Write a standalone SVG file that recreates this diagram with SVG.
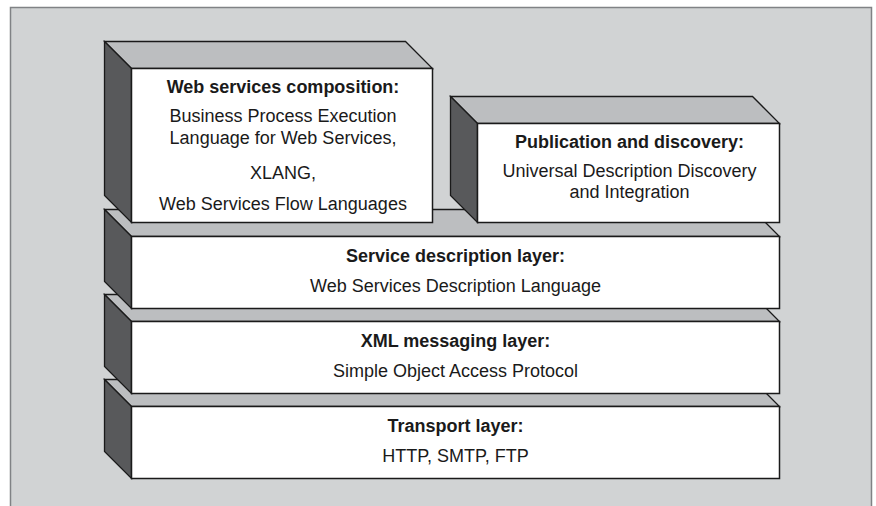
<svg xmlns="http://www.w3.org/2000/svg" width="876" height="506" viewBox="0 0 876 506">
<style>
.top{fill:#bcbec0;stroke:#1a1a1a;stroke-width:1.3;stroke-linejoin:miter}
.side{fill:#58595b;stroke:#1a1a1a;stroke-width:1.3}
.front{fill:#ffffff;stroke:#1a1a1a;stroke-width:1.5}
text{font-family:"Liberation Sans",Arial,sans-serif;font-size:18px;fill:#1a1a1a;text-anchor:middle}
.b{font-weight:bold}
</style>
<rect x="10.5" y="7.5" width="861" height="510" fill="#d1d3d4" stroke="#808285" stroke-width="1.5"/>
<g id="transport">
<polygon class="top" points="104.5,379.5 752.5,379.5 779.5,406.5 131.5,406.5"/>
<polygon class="side" points="104.5,379.5 131.5,406.5 131.5,478.5 104.5,451.5"/>
<rect class="front" x="131.5" y="406.5" width="648" height="72"/>
<text class="b" x="455.5" y="432">Transport layer:</text>
<text x="455.5" y="462">HTTP, SMTP, FTP</text>
</g>
<g id="xml-messaging">
<polygon class="top" points="104.5,294.5 752.5,294.5 779.5,321.5 131.5,321.5"/>
<polygon class="side" points="104.5,294.5 131.5,321.5 131.5,393.5 104.5,366.5"/>
<rect class="front" x="131.5" y="321.5" width="648" height="72"/>
<text class="b" x="455.5" y="347">XML messaging layer:</text>
<text x="455.5" y="377">Simple Object Access Protocol</text>
</g>
<g id="service-description">
<polygon class="top" points="104.5,209.5 752.5,209.5 779.5,236.5 131.5,236.5"/>
<polygon class="side" points="104.5,209.5 131.5,236.5 131.5,308.5 104.5,281.5"/>
<rect class="front" x="131.5" y="236.5" width="648" height="72"/>
<text class="b" x="455.5" y="262">Service description layer:</text>
<text x="455.5" y="292">Web Services Description Language</text>
</g>
<g id="composition">
<polygon class="top" points="104.5,41.5 405.5,41.5 432.5,68.5 131.5,68.5"/>
<polygon class="side" points="104.5,41.5 131.5,68.5 131.5,222.5 104.5,195.5"/>
<rect class="front" x="131.5" y="68.5" width="301" height="154"/>
<text class="b" x="283" y="93">Web services composition:</text>
<text x="283" y="122">Business Process Execution</text>
<text x="283" y="144">Language for Web Services,</text>
<text x="283" y="179">XLANG,</text>
<text x="283" y="210">Web Services Flow Languages</text>
</g>
<g id="publication">
<polygon class="top" points="450.5,96.5 752.5,96.5 779.5,123.5 477.5,123.5"/>
<polygon class="side" points="450.5,96.5 477.5,123.5 477.5,222.5 450.5,195.5"/>
<rect class="front" x="477.5" y="123.5" width="302" height="99"/>
<text class="b" x="629.5" y="148">Publication and discovery:</text>
<text x="629.5" y="177">Universal Description Discovery</text>
<text x="629.5" y="198">and Integration</text>
</g>
<g id="connectors"/>
</svg>
